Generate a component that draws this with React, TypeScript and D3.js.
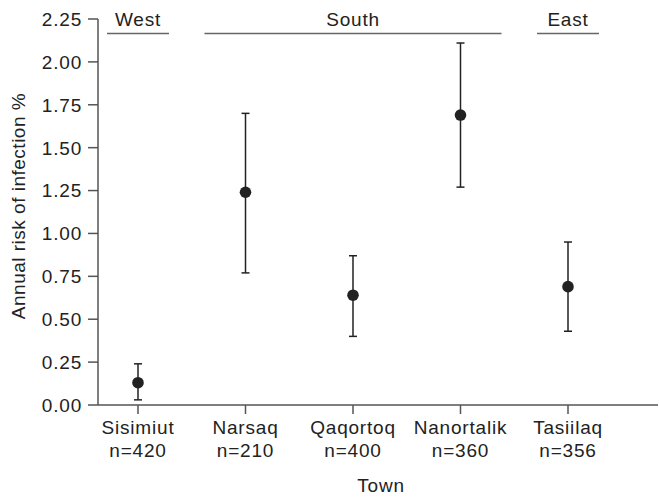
import React from 'react';
import * as d3 from 'd3';

const towns = ['Sisimiut', 'Narsaq', 'Qaqortoq', 'Nanortalik', 'Tasiilaq'];
const sampleSizes = ['n=420', 'n=210', 'n=400', 'n=360', 'n=356'];
const riskValues = [0.13, 1.24, 0.64, 1.69, 0.69];
const lowerCI = [0.03, 0.77, 0.4, 1.27, 0.43];
const upperCI = [0.24, 1.7, 0.87, 2.11, 0.95];
const yTicks = [0, 0.25, 0.5, 0.75, 1, 1.25, 1.5, 1.75, 2, 2.25];
const regions = [
    { name: 'West', towns: ['Sisimiut'] },
    { name: 'South', towns: ['Narsaq', 'Qaqortoq', 'Nanortalik'] },
    { name: 'East', towns: ['Tasiilaq'] }
];

const width = 659;
const height = 498;
const axisX = 98;
const axisRight = 658;
const font = 'Liberation Sans, Arial, sans-serif';
const fontSize = 19;
const spacing = 0.8;
const axisColor = '#555';
const markColor = '#222';

const App = () => {
    const x = d3.scalePoint<string>().domain(towns).range([138, 568]);
    const y = d3.scaleLinear().domain([0, 2.25]).range([405, 19]);
    const fmt = d3.format('.2f');

    return (
        <svg width={width} height={height} style={{ position: 'absolute', left: 0, top: 0 }}
            fontFamily={font}>
            {/* y axis */}
            <line x1={axisX} x2={axisX} y1={y(2.25)} y2={y(0)} stroke={axisColor} strokeWidth={1.5} />
            {yTicks.map(t => (
                <g key={t}>
                    <line x1={axisX - 10} x2={axisX} y1={y(t)} y2={y(t)} stroke={axisColor} strokeWidth={1.5} />
                    <text x={82} y={y(t)} dy="0.36em" textAnchor="end" fontSize={fontSize}
                        letterSpacing={spacing} fill={markColor}>{fmt(t)}</text>
                </g>
            ))}
            <text transform={`translate(25, ${(y(0) + y(2.25)) / 2 - 6}) rotate(-90)`} textAnchor="middle"
                fontSize={fontSize} letterSpacing={0.5} fill={markColor}>Annual risk of infection %</text>

            {/* x axis */}
            <line x1={axisX} x2={axisRight} y1={y(0)} y2={y(0)} stroke={axisColor} strokeWidth={1.5} />
            {towns.map((t, i) => (
                <g key={t} transform={`translate(${x(t)},0)`}>
                    <line y1={y(0)} y2={y(0) + 9} stroke={axisColor} strokeWidth={1.5} />
                    <text y={433.5} textAnchor="middle" fontSize={fontSize} letterSpacing={spacing} fill={markColor}>{t}</text>
                    <text y={457} textAnchor="middle" fontSize={fontSize} letterSpacing={spacing} fill={markColor}>{sampleSizes[i]}</text>
                </g>
            ))}
            <text x={(axisX + axisRight) / 2 + 3} y={492} textAnchor="middle" fontSize={fontSize}
                letterSpacing={spacing} fill={markColor}>Town</text>

            {/* region labels */}
            {regions.map(r => {
                const xs = r.towns.map(t => x(t) as number);
                const pad = r.towns.length > 1 ? 41 : 31;
                const x0 = d3.min(xs)! - pad;
                const x1 = d3.max(xs)! + pad;
                return (
                    <g key={r.name}>
                        <line x1={x0} x2={x1} y1={33.5} y2={33.5} stroke="#666" strokeWidth={1.6} />
                        <text x={(x0 + x1) / 2} y={26} textAnchor="middle" fontSize={fontSize}
                            letterSpacing={spacing} fill={markColor}>{r.name}</text>
                    </g>
                );
            })}

            {/* error bars and points */}
            {towns.map((t, i) => {
                const cx = x(t) as number;
                return (
                    <g key={t}>
                        <line x1={cx} x2={cx} y1={y(lowerCI[i])} y2={y(upperCI[i])} stroke={markColor} strokeWidth={1.5} />
                        <line x1={cx - 4} x2={cx + 4} y1={y(lowerCI[i])} y2={y(lowerCI[i])} stroke={markColor} strokeWidth={1.5} />
                        <line x1={cx - 4} x2={cx + 4} y1={y(upperCI[i])} y2={y(upperCI[i])} stroke={markColor} strokeWidth={1.5} />
                        <circle cx={cx} cy={y(riskValues[i])} r={5.8} fill={markColor} />
                    </g>
                );
            })}
        </svg>
    );
};

export default App;
